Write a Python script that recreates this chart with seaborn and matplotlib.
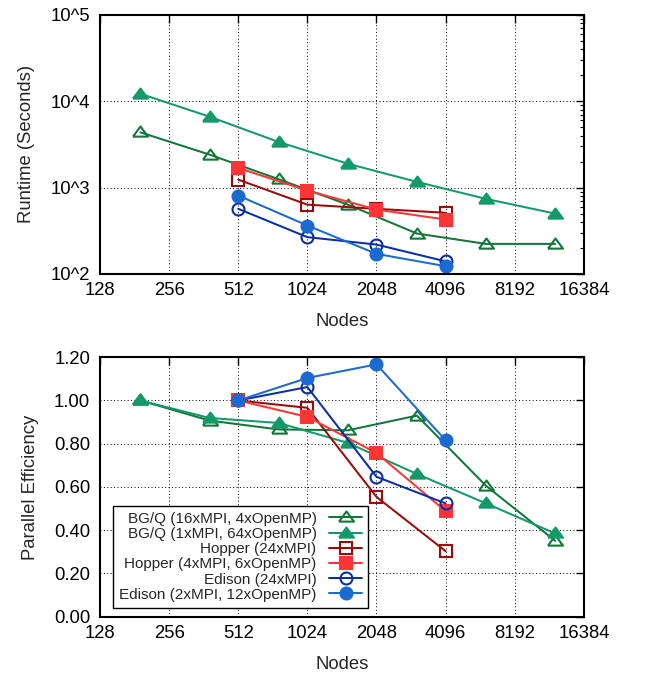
import numpy as np
import pandas as pd
import matplotlib
matplotlib.use("Agg")
import matplotlib.pyplot as plt
import matplotlib.ticker as ticker
import seaborn as sns

# node counts
bgq_nodes = [192, 384, 768, 1536, 3072, 6144, 12288]
cray_nodes = [512, 1024, 2048, 4096]

# runtime (seconds)
bgq16_runtime = [4360, 2410, 1250, 635, 294, 223, 223]
bgq1_runtime = [12200, 6620, 3375, 1890, 1165, 740, 500]
hopper24_runtime = [1236, 635, 568, 511]
hopper4_runtime = [1690, 923, 557, 427]
edison24_runtime = [568, 267, 219, 140]
edison2_runtime = [809, 364, 171, 123]

# parallel efficiency
bgq16_eff = [1.00, 0.907, 0.866, 0.862, 0.930, 0.605, 0.351]
bgq1_eff = [1.00, 0.919, 0.896, 0.804, 0.660, 0.524, 0.385]
hopper24_eff = [1.00, 0.966, 0.554, 0.303]
hopper4_eff = [1.00, 0.924, 0.757, 0.488]
edison24_eff = [1.00, 1.062, 0.647, 0.524]
edison2_eff = [1.00, 1.104, 1.167, 0.816]

labels = ["BG/Q (16xMPI, 4xOpenMP)", "BG/Q (1xMPI, 64xOpenMP)",
          "Hopper (24xMPI)", "Hopper (4xMPI, 6xOpenMP)",
          "Edison (24xMPI)", "Edison (2xMPI, 12xOpenMP)"]
x_ticks = [128, 256, 512, 1024, 2048, 4096, 8192, 16384]
rt_ticks = [1e2, 1e3, 1e4, 1e5]
rt_ticklabels = ["10^2", "10^3", "10^4", "10^5"]
eff_ticks = [0.0, 0.2, 0.4, 0.6, 0.8, 1.0, 1.2]

# build long table
rows = []
series = [
    (labels[0], bgq_nodes, bgq16_runtime, bgq16_eff),
    (labels[1], bgq_nodes, bgq1_runtime, bgq1_eff),
    (labels[2], cray_nodes, hopper24_runtime, hopper24_eff),
    (labels[3], cray_nodes, hopper4_runtime, hopper4_eff),
    (labels[4], cray_nodes, edison24_runtime, edison24_eff),
    (labels[5], cray_nodes, edison2_runtime, edison2_eff),
]
for name, nodes, rt, eff in series:
    for n, r, e in zip(nodes, rt, eff):
        rows.append({"series": name, "nodes": n, "runtime": r, "eff": e})
df = pd.DataFrame(rows)

# gnuplot-like wide triangle
tri = [(-1, -0.55), (1, -0.55), (0, 0.8), (-1, -0.55)]

styles = {
    labels[0]: dict(color="#11773a", marker=tri, ms=10.8, filled=False),
    labels[1]: dict(color="#139a68", marker=tri, ms=10.8, filled=True),
    labels[2]: dict(color="#9c0a0a", marker="s", ms=8.6, filled=False),
    labels[3]: dict(color="#ff3535", marker="s", ms=8.6, filled=True),
    labels[4]: dict(color="#0b2ea3", marker="o", ms=8.6, filled=False),
    labels[5]: dict(color="#1a6ad2", marker="o", ms=8.6, filled=True),
}

sns.set_style("white")
plt.rcParams["font.family"] = ["Liberation Sans", "DejaVu Sans"]

fig = plt.figure(figsize=(6.62, 6.74), dpi=100)
ax1 = fig.add_axes([0.151, 0.5935, 0.731, 0.3845])
ax2 = fig.add_axes([0.151, 0.085, 0.731, 0.385])


def draw(ax, ycol, with_label):
    for name in labels:
        st = styles[name]
        sub = df[df["series"] == name]
        kw = dict(color=st["color"], marker=st["marker"], markersize=st["ms"],
                  markeredgecolor=st["color"], markeredgewidth=1.5,
                  linewidth=1.45, errorbar=None, legend=False)
        kw["markerfacecolor"] = st["color"] if st["filled"] else "none"
        if with_label:
            kw["label"] = name
        sns.lineplot(data=sub, x="nodes", y=ycol, ax=ax, **kw)


def style_axes(ax):
    ax.set_xscale("log", base=2)
    ax.set_xlim(128, 16384)
    ax.set_xticks(x_ticks)
    ax.xaxis.set_major_formatter(ticker.FuncFormatter(lambda v, p: f"{int(round(v))}"))
    ax.xaxis.set_minor_locator(ticker.NullLocator())
    ax.grid(True, which="major", linestyle=(0, (1, 2.5)), color="black", linewidth=0.7)
    ax.tick_params(which="both", direction="in", top=True, right=True,
                   labelsize=13.3, colors="black")
    ax.tick_params(which="major", length=6, width=1)
    ax.tick_params(which="minor", length=3, width=0.8)
    ax.tick_params(axis="y", pad=7)
    ax.tick_params(axis="x", pad=6)
    for sp in ax.spines.values():
        sp.set_color("black")
        sp.set_linewidth(1.5)
    ax.set_xlabel("Nodes", fontsize=13.3, labelpad=10)


draw(ax1, "runtime", False)
style_axes(ax1)
ax1.set_yscale("log")
ax1.set_ylim(100, 100000)
ax1.set_yticks(rt_ticks)
ax1.set_yticklabels(rt_ticklabels)
ax1.yaxis.set_minor_locator(ticker.LogLocator(base=10, subs=np.arange(2, 10)))
ax1.yaxis.set_minor_formatter(ticker.NullFormatter())
ax1.set_ylabel("Runtime (Seconds)", fontsize=13.3, labelpad=11)

draw(ax2, "eff", True)
style_axes(ax2)
ax2.set_ylim(0, 1.2)
ax2.set_yticks(eff_ticks)
ax2.yaxis.set_major_formatter(ticker.FormatStrFormatter("%.2f"))
ax2.set_ylabel("Parallel Efficiency", fontsize=13.3, labelpad=11)

leg = ax2.legend(loc="lower left", bbox_to_anchor=(0.027, 0.034), borderaxespad=0,
                 markerfirst=False, numpoints=1, fontsize=11, frameon=True,
                 fancybox=False, framealpha=1, edgecolor="black",
                 handlelength=2.2, handletextpad=0.8, labelspacing=0.08,
                 borderpad=0.4)
leg.get_frame().set_linewidth(1.0)

fig.savefig("out.png", dpi=100)
